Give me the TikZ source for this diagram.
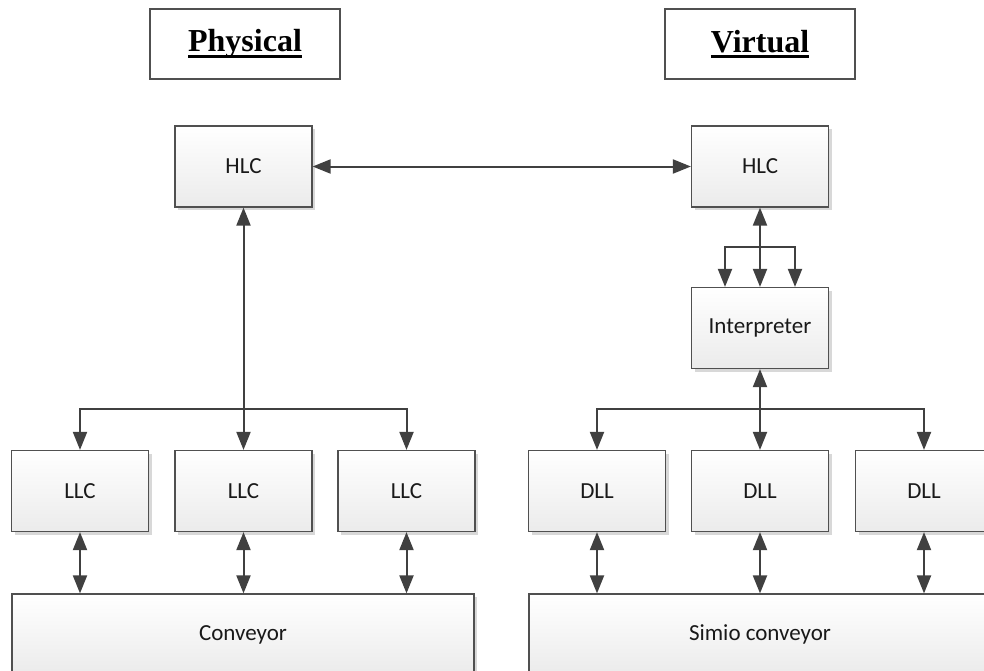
\documentclass[tikz,border=0pt]{standalone}
\usepackage{fontspec}
\setmainfont{Carlito}
\newfontfamily\headfont{Liberation Serif}
\usetikzlibrary{arrows.meta,shadows}

\definecolor{wire}{HTML}{404040}
\definecolor{edge}{HTML}{505050}
\definecolor{shade}{HTML}{EBEBEB}
\definecolor{shadowgray}{HTML}{D8D8D8}

% bold heading with a heavy underline
\newcommand\headline[1]{\setbox0\hbox{#1}\copy0\kern-\wd0\rule[-6pt]{\wd0}{3pt}}

\tikzset{
  unit/.style={draw=edge, line width=1.2pt, top color=white, bottom color=shade,
    minimum width=137pt, minimum height=81pt, inner sep=0pt,
    font=\fontsize{23}{27}\selectfont, text=black!90,
    drop shadow={shadow xshift=3pt, shadow yshift=-3pt, fill=shadowgray, opacity=1}},
  wide/.style={unit, minimum width=462pt},
  headbox/.style={draw=edge, line width=1.3pt, fill=white,
    minimum width=190pt, minimum height=70pt, inner sep=0pt,
    font=\headfont\bfseries\fontsize{32}{36}\selectfont},
  link/.style={draw=wire, line width=2pt, -{Triangle[width=14pt,length=18pt]}},
  duplex/.style={link, {Triangle[width=14pt,length=18pt]}-{Triangle[width=14pt,length=18pt]}}
}

\begin{document}
\begin{tikzpicture}[x=1pt, y=-1pt]
\useasboundingbox (0,0) rectangle (984,670);

% headings
\node[headbox] (phys) at (245,44) {\headline{Physical}};
\node[headbox] (virt) at (760,44) {\headline{Virtual}};

% physical side
\node[unit] (hlcP) at (243.5,166.5) {HLC};
\node[unit] (llc1) at (80,491) {LLC};
\node[unit] (llc2) at (243.5,491) {LLC};
\node[unit] (llc3) at (406.5,491) {LLC};
\node[wide] (conv) at (243,634.5) {Conveyor};

% virtual side
\node[unit] (hlcV) at (760,166.5) {HLC};
\node[unit] (interp) at (760,328) {Interpreter};
\node[unit] (dll1) at (597,491) {DLL};
\node[unit] (dll2) at (760,491) {DLL};
\node[unit] (dll3) at (924,491) {DLL};
\node[wide] (sconv) at (760,634.5) {Simio conveyor};

% branch points
\coordinate (busP) at (243.5,409);
\coordinate (busI) at (760,247);
\coordinate (busV) at (760,409);

% HLC to HLC
\draw[duplex] (hlcP) -- (hlcV);

% physical HLC to the LLCs
\draw[duplex] (hlcP.south) -- (llc2.north);
\draw[link] (busP) -| (llc1);
\draw[link] (busP) -| (llc3);

% virtual HLC to the interpreter
\draw[duplex] (hlcV.south) -- (interp.north);
\draw[link] (busI) -| ([xshift=-35pt]interp.north);
\draw[link] (busI) -| ([xshift=35pt]interp.north);

% interpreter to the DLLs
\draw[duplex] (interp.south) -- (dll2.north);
\draw[link] (busV) -| (dll1);
\draw[link] (busV) -| (dll3);

% controllers to conveyors
\foreach \c in {llc1,llc2,llc3}{
  \draw[duplex] (\c.south) -- (\c.south |- conv.north);
}
\foreach \c in {dll1,dll2,dll3}{
  \draw[duplex] (\c.south) -- (\c.south |- sconv.north);
}
\end{tikzpicture}
\end{document}
